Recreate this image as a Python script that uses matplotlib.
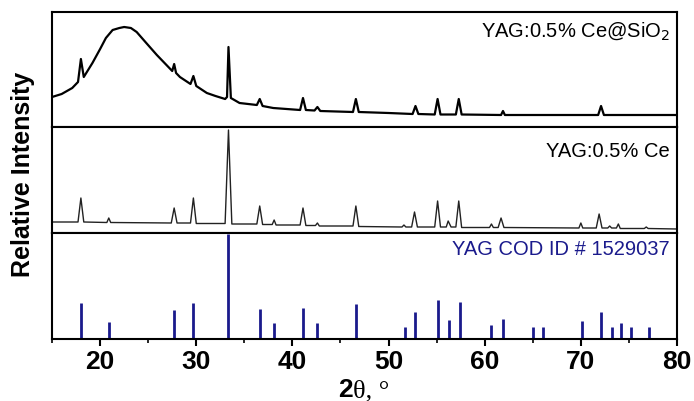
import matplotlib
matplotlib.use('Agg')
import matplotlib.pyplot as plt
from matplotlib.ticker import MultipleLocator

plt.rcParams['font.family'] = ['Liberation Sans', 'DejaVu Sans']

# traced points of the YAG:0.5% Ce@SiO2 pattern (2theta, intensity)
sio2_tt = [15.0, 16.0, 17.1, 17.7, 18.0, 18.3, 19.2, 20.0, 20.6, 21.3, 22.0, 22.5, 23.2,
           23.8, 24.8, 25.9, 26.9, 27.5, 27.7, 27.9, 28.3, 29.4, 29.7, 30.0, 31.1, 32.0,
           33.0, 33.2, 33.35, 33.6, 34.5, 36.3, 36.6, 36.9, 38.0, 40.8, 41.1, 41.4, 42.3,
           42.6, 42.9, 46.3, 46.6, 46.9, 50.0, 52.5, 52.8, 53.1, 54.8, 55.1, 55.4, 57.0,
           57.3, 57.6, 61.7, 61.9, 62.1, 71.8, 72.1, 72.4, 80.0]
sio2_int = [30, 33, 39, 45, 68, 50, 64, 78, 89, 97, 99, 100, 99,
            95, 84, 72, 62, 56, 63, 54, 50, 43, 51, 41, 34, 31,
            28, 30, 80, 29, 24, 22, 28, 21, 19, 17, 29, 17, 16.5,
            20, 16, 15, 28, 15, 14, 13, 21, 13, 12.5, 28, 12.5, 12.5,
            28, 12.5, 12, 16, 12, 12, 21, 12, 12]

# traced points of the YAG:0.5% Ce pattern
yag_tt = [15.0, 17.7, 18.0, 18.3, 20.7, 20.9, 21.1, 27.4, 27.7, 28.0, 29.4, 29.7, 30.0,
          33.0, 33.35, 33.7, 36.3, 36.6, 36.9, 37.9, 38.1, 38.3, 40.8, 41.1, 41.4, 42.4,
          42.6, 42.8, 46.3, 46.6, 46.9, 51.4, 51.6, 51.8, 52.4, 52.7, 53.0, 54.8, 55.1,
          55.4, 56.0, 56.2, 56.5, 57.0, 57.3, 57.6, 60.5, 60.7, 60.9, 61.4, 61.7, 62.0,
          69.8, 70.0, 70.2, 71.6, 71.9, 72.2, 72.8, 73.0, 73.2, 73.7, 73.9, 74.1, 76.6,
          76.8, 77.0, 80.0]
yag_int = [11, 11, 35, 11, 10.5, 15, 10.5, 10, 25, 10, 10, 35, 9.5,
           9.5, 103, 9, 9, 27, 8.5, 8.5, 13, 8, 8, 25, 7.5, 7.5,
           10, 7, 7, 27, 6.5, 6, 8, 6, 6, 21, 6, 6, 32,
           6, 6, 12, 6, 6, 32, 5.5, 5.5, 9, 5.5, 5.5, 15, 5.5,
           5, 10, 5, 5, 19, 5, 5, 7, 5, 5, 9, 4.5, 4.5,
           6, 4.5, 4]

# reference card COD 1529037
cod_tt = [18.0, 20.9, 27.7, 29.7, 33.35, 36.6, 38.1, 41.1, 42.6, 46.6, 51.7, 52.8, 55.1,
          56.3, 57.4, 60.7, 61.9, 65.0, 66.1, 70.1, 72.1, 73.2, 74.2, 75.2, 77.1]
cod_int = [34, 16, 28, 34, 100, 29, 15, 30, 15, 33, 11, 26, 37,
           18, 35, 13, 19, 11, 11, 17, 26, 11, 15, 11, 11]

fig = plt.figure(figsize=(6.94, 4.01), dpi=100)
left, width = 0.075, 0.9005
ax_top = fig.add_axes([left, 1 - 127 / 401, width, 115 / 401])
ax_mid = fig.add_axes([left, 1 - 233 / 401, width, 106 / 401])
ax_bot = fig.add_axes([left, 1 - 339 / 401, width, 106 / 401])

ax_top.plot(sio2_tt, sio2_int, color='black', lw=1.6)
ax_top.set_ylim(0, 115)
ax_mid.plot(yag_tt, yag_int, color='#222222', lw=1.0)
ax_mid.set_ylim(0, 106)
ax_bot.vlines(cod_tt, 0, cod_int, color='#1a1a8c', lw=2)
ax_bot.set_ylim(0, 101)

for ax in (ax_top, ax_mid, ax_bot):
    ax.set_xlim(15, 80)
    ax.set_yticks([])
    for s in ax.spines.values():
        s.set_linewidth(1.5)
for ax in (ax_top, ax_mid):
    ax.set_xticks([])

ax_bot.xaxis.set_major_locator(MultipleLocator(10))
ax_bot.xaxis.set_minor_locator(MultipleLocator(5))
ax_bot.tick_params(axis='x', which='major', direction='out', length=5, width=1.5,
                   labelsize=19, pad=3)
ax_bot.tick_params(axis='x', which='minor', direction='out', length=3, width=1.2)
for lab in ax_bot.get_xticklabels():
    lab.set_fontweight('bold')

# x label: bold sans "2" followed by serif theta
fig.text(353 / 694, 0.01, '2', ha='right', va='baseline', fontsize=19, fontweight='bold')
fig.text(353 / 694, 0.01, 'θ, °', ha='left', va='baseline', fontsize=19,
         family='Liberation Serif')

ax_top.text(0.989, 0.835, 'YAG:0.5% Ce@SiO$_2$', transform=ax_top.transAxes,
            ha='right', va='center', fontsize=14.5)
ax_mid.text(0.989, 0.77, 'YAG:0.5% Ce', transform=ax_mid.transAxes,
            ha='right', va='center', fontsize=14.5)
ax_bot.text(0.989, 0.845, 'YAG COD ID # 1529037', transform=ax_bot.transAxes,
            ha='right', va='center', fontsize=14.5, color='#1a1a8c')

fig.text(0.033, 1 - 174 / 401, 'Relative Intensity', rotation=90, ha='center',
         va='center', fontsize=18, fontweight='bold')

fig.savefig('out.png', dpi=100)
